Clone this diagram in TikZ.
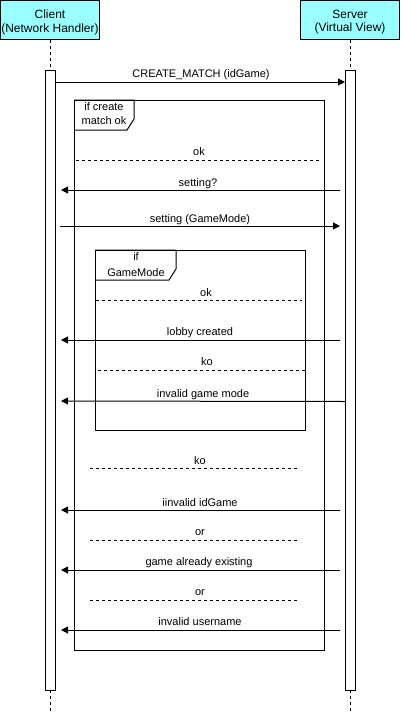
\documentclass[tikz,border=0pt]{standalone}
\usepackage{fontspec}
\setmainfont{Liberation Sans}
\usetikzlibrary{arrows.meta}
\definecolor{headcol}{HTML}{99FFFF}
\begin{document}
\begin{tikzpicture}[x=1pt,y=-1pt,
  every node/.style={inner sep=0pt, outer sep=0pt},
  head/.style={draw, fill=headcol, line width=1pt, minimum width=99pt, minimum height=39pt},
  headtxt/.style={font=\fontsize{12}{13.5}\selectfont, align=center, anchor=north},
  bar/.style={draw, fill=white, line width=1pt, minimum width=10pt, minimum height=620pt},
  life/.style={line width=1pt, dash pattern=on 3pt off 3pt},
  msg/.style={line width=1pt, -{Triangle[length=7pt,width=7pt]}},
  sepline/.style={line width=1pt, dash pattern=on 3pt off 3pt},
  frm/.style={draw, line width=1pt},
  frmtxt/.style={font=\fontsize{11}{14.5}\selectfont, align=center, anchor=north},
  lbl/.style={font=\fontsize{11}{13}\selectfont, anchor=base}
]
\useasboundingbox (0,0) rectangle (401,712);

% lifeline heads
\node[head] (client) at (50,20) {};
\node[headtxt] (clienttxt) at (50,10) {Client\\(Network Handler)};
\node[head] (server) at (350,20) {};
\node[headtxt] (servertxt) at (350,10) {Server\\(Virtual View)};

% lifelines
\coordinate (cend) at (50,712);
\coordinate (send) at (350,712);
\node[bar] (cbar) at (50,380) {};
\node[bar] (sbar) at (350,380) {};
\draw[life] (client.south) -- (cbar.north);
\draw[life] (server.south) -- (sbar.north);
\draw[life] (cbar.south) -- (cend);
\draw[life] (sbar.south) -- (send);

% outer frame
\node[frm, minimum width=250pt, minimum height=550pt] (outer) at (199,375) {};
\draw[line width=1pt] (outer.north west) -- (134,100) -- (134,119) -- (127,130) -- (74,130);
\node[frmtxt] (outertxt) at (104,102.5) {if create\\match ok};

% inner frame
\node[frm, minimum width=210pt, minimum height=180pt] (inner) at (200,340) {};
\draw[line width=1pt] (inner.north west) -- (176,250) -- (176,269) -- (169,280) -- (95,280);
\node[frmtxt, font=\fontsize{11}{16}\selectfont] (innertxt) at (136,253) {if\\GameMode};

% CREATE_MATCH
\coordinate (m1s) at (55,82); \coordinate (m1e) at (345,82);
\draw[msg] (m1s) -- (m1e);
\node[lbl] (t1) at (201,77) {CREATE\_MATCH (idGame)};

% ok separator
\coordinate (s1s) at (76,160); \coordinate (s1e) at (320,160);
\draw[sepline] (s1s) -- (s1e);
\node[lbl] (t2) at (199,155) {ok};

% setting?
\coordinate (m2s) at (340,190); \coordinate (m2e) at (61,190);
\draw[msg] (m2s) -- (m2e);
\node[lbl] (t3) at (198,186) {setting?};

% setting (GameMode)
\coordinate (m3s) at (60,226); \coordinate (m3e) at (340,226);
\draw[msg] (m3s) -- (m3e);
\node[lbl] (t4) at (200,222) {setting (GameMode)};

% inner ok
\coordinate (s2s) at (96,300); \coordinate (s2e) at (302,300);
\draw[sepline] (s2s) -- (s2e);
\node[lbl] (t5) at (206,296) {ok};

% lobby created
\coordinate (m4s) at (340,340); \coordinate (m4e) at (61,340);
\draw[msg] (m4s) -- (m4e);
\node[lbl] (t6) at (200,335) {lobby created};

% inner ko
\coordinate (s3s) at (98,370); \coordinate (s3e) at (305,370);
\draw[sepline] (s3s) -- (s3e);
\node[lbl] (t7) at (207,365) {ko};

% invalid game mode
\coordinate (m5s) at (345,401.5); \coordinate (m5e) at (61,401);
\draw[msg] (m5s) -- (m5e);
\node[lbl] (t8) at (203,397) {invalid game mode};

% outer ko
\coordinate (s4s) at (90,468); \coordinate (s4e) at (298,468);
\draw[sepline] (s4s) -- (s4e);
\node[lbl] (t9) at (200,464) {ko};

% iinvalid idGame
\coordinate (m6s) at (340,510); \coordinate (m6e) at (61,510);
\draw[msg] (m6s) -- (m6e);
\node[lbl] (t10) at (200,506) {iinvalid idGame};

% or
\coordinate (s5s) at (90,540); \coordinate (s5e) at (298,540);
\draw[sepline] (s5s) -- (s5e);
\node[lbl] (t11) at (200,535) {or};

% game already existing
\coordinate (m7s) at (340,570); \coordinate (m7e) at (61,570);
\draw[msg] (m7s) -- (m7e);
\node[lbl] (t12) at (199,565) {game already existing};

% or
\coordinate (s6s) at (90,600); \coordinate (s6e) at (298,600);
\draw[sepline] (s6s) -- (s6e);
\node[lbl] (t13) at (200,595) {or};

% invalid username
\coordinate (m8s) at (340,630); \coordinate (m8e) at (61,630);
\draw[msg] (m8s) -- (m8e);
\node[lbl] (t14) at (200,625) {invalid username};
\end{tikzpicture}
\end{document}
